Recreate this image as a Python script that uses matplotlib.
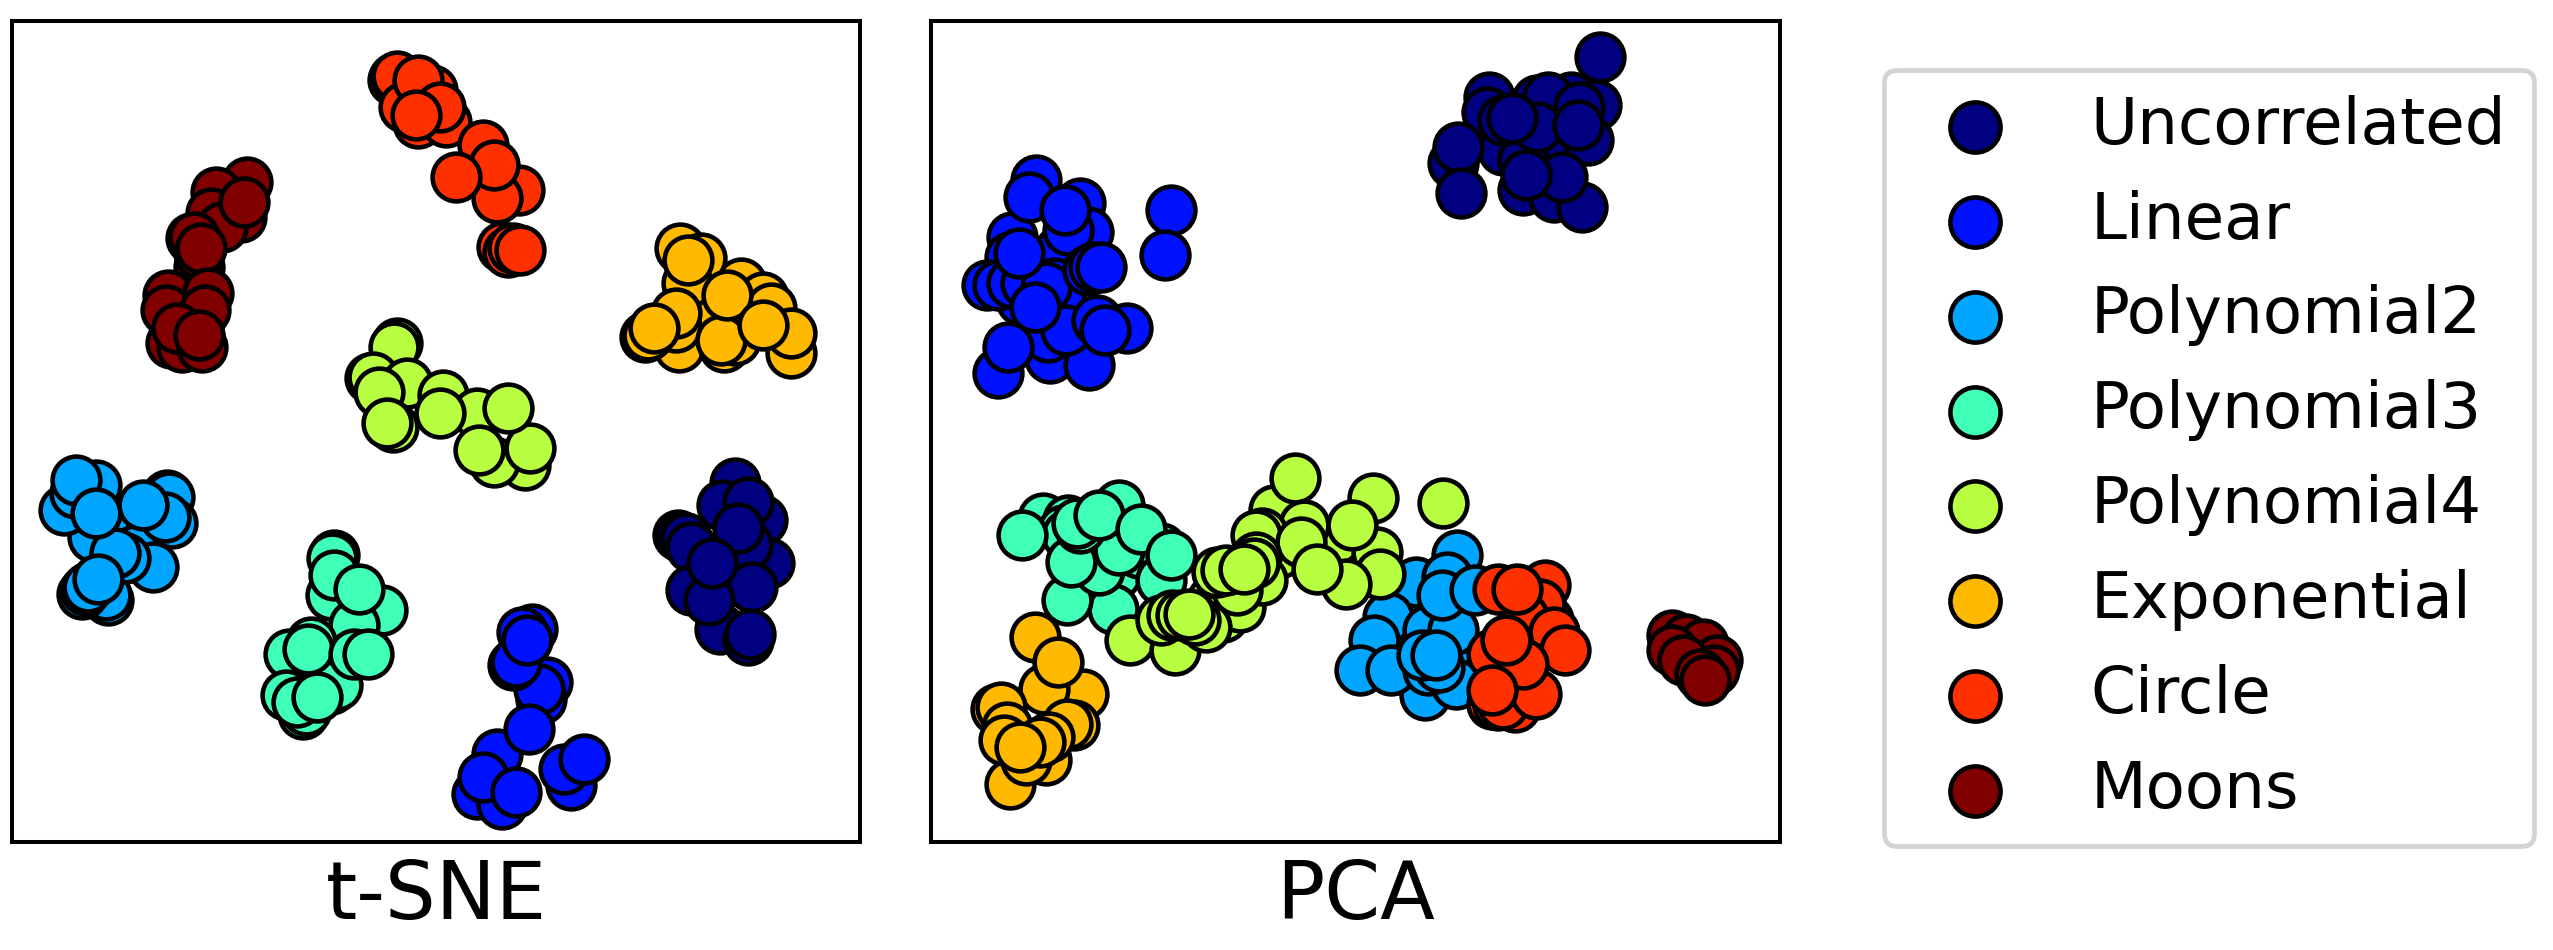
import numpy as np
import matplotlib
matplotlib.use("Agg")
import matplotlib.pyplot as plt

labels = ["Uncorrelated", "Linear", "Polynomial2", "Polynomial3",
          "Polynomial4", "Exponential", "Circle", "Moons"]

# t-SNE embedding, (x, y) per point, drawing order matters
tsne_uncorrelated = [(1311,1450),(1358,1560),(1287,1515),(1334,1505),(1208,1605),(1214,1610),(1223,1615),(1232,1640),(1370,1690),(1331,1635),(1315,1585),(1232,1770),(1340,1760),(1284,1885),(1334,1920),(1336,1900),(1264,1800),(1270,1690)]
tsne_linear = [(948,1885),(930,1895),(975,2045),(965,2095),(960,2065),(915,1995),(920,1985),(940,1920),(885,2260),(850,2380),(895,2410),(860,2330),(1018,2355),(1005,2305),(942,2185),(1040,2275),(920,2375)]
tsne_poly2 = [(215,1590),(240,1650),(165,1610),(298,1485),(301,1490),(113,1530),(171,1455),(133,1480),(307,1570),(293,1550),(272,1700),(192,1800),(189,1785),(145,1780),(151,1770),(157,1760),(222,1675),(204,1660),(135,1440),(171,1540),(254,1515),(174,1735)]
tsne_poly3 = [(595,1665),(592,1675),(590,1785),(595,1725),(680,1830),(630,1875),(640,1765),(555,1925),(515,1960),(510,2085),(590,2065),(600,2055),(540,2140),(545,2130),(530,2105),(548,1945),(630,1960),(655,1960),(565,2090)]
tsne_poly4 = [(707,1030),(703,1040),(660,1135),(665,1130),(725,1150),(790,1185),(700,1280),(675,1175),(690,1270),(850,1240),(785,1240),(935,1395),(880,1385),(945,1345),(853,1350),(905,1225)]
tsne_exponential = [(1260,920),(1210,1040),(1290,1040),(1320,850),(1212,745),(1250,775),(1225,850),(1360,890),(1150,1010),(1155,1005),(1205,980),(1205,940),(1310,1020),(1285,1020),(1410,1060),(1375,925),(1295,885),(1410,1000),(1360,975),(1165,985),(1227,780)]
tsne_circle = [(700,240),(703,235),(708,228),(770,270),(720,320),(745,370),(795,365),(745,240),(785,320),(742,345),(860,435),(925,570),(885,595),(880,495),(813,530),(895,740),(905,755),(915,745),(927,750)]
tsne_moons = [(400,640),(330,900),(340,960),(440,545),(430,650),(385,575),(375,640),(395,680),(340,715),(345,710),(355,800),(355,760),(435,605),(358,745),(300,885),(295,930),(370,880),(365,930),(305,1030),(325,1040),(315,985),(360,1040),(355,1005)]

# PCA embedding
pca_uncorrelated = [(1100,300),(1180,370),(1130,450),(1040,450),(1160,290),(1120,290),(1205,315),(1212,172),(1015,290),(1010,335),(950,490),(1190,420),(1175,320),(1075,480),(1100,380),(1040,360),(1075,570),(1130,590),(1180,620),(1145,530),(960,440),(965,580),(1055,355),(1173,375),(1080,525)]
pca_linear = [(250,750),(240,850),(250,900),(250,1000),(180,900),(208,540),(285,610),(300,695),(265,690),(165,710),(160,770),(120,855),(140,855),(165,850),(190,850),(225,860),(300,810),(310,800),(232,1075),(302,1095),(140,1120),(228,1010),(195,590),(258,630),(447,630),(437,765),(177,760),(323,800),(370,985),(260,990),(315,960),(205,920),(158,1040),(330,990)]
pca_poly2 = [(880,1820),(860,1920),(950,1970),(880,2020),(958,1665),(885,1745),(835,1850),(810,1920),(905,1890),(950,1890),(900,2085),(955,2050),(785,2010),(840,2010),(905,2010),(925,2000),(895,1965),(940,1730),(930,1785),(990,1770),(920,1965)]
pca_poly3 = [(350,1720),(390,1660),(355,1515),(220,1555),(265,1560),(255,1590),(262,1605),(430,1645),(430,1740),(345,1825),(262,1800),(320,1710),(270,1685),(355,1650),(285,1585),(280,1570),(182,1605),(320,1545),(395,1588),(447,1665)]
pca_poly4 = [(740,1620),(640,1660),(520,1800),(540,1850),(632,1530),(807,1495),(668,1435),(933,1510),(685,1575),(610,1600),(600,1605),(815,1655),(820,1720),(760,1750),(680,1625),(770,1575),(708,1705),(570,1820),(610,1740),(565,1770),(600,1670),(595,1690),(530,1715),(545,1710),(578,1705),(375,1920),(455,1950),(510,1880),(490,1860),(430,1860),(450,1845),(465,1845),(480,1842)]
pca_exponential = [(205,1910),(290,2080),(222,2065),(247,1985),(135,2125),(145,2120),(275,2175),(262,2170),(160,2350),(225,2280),(190,2280),(155,2180),(150,2220),(230,2210),(215,2225),(178,2240)]
pca_circle = [(1090,1940),(1120,1860),(1060,2120),(1115,1755),(1105,1810),(1075,1850),(1130,1895),(1150,1950),(1020,2110),(1030,2115),(1040,2110),(1098,2080),(1020,1960),(1075,1990),(1030,1765),(1065,1765),(1045,1920),(1020,2070)]
pca_moons = [(1340,1905),(1365,1915),(1395,1930),(1420,1980),(1415,2010),(1340,1950),(1360,1980),(1390,2020),(1400,2040)]

tsne_sets = [tsne_uncorrelated, tsne_linear, tsne_poly2, tsne_poly3,
             tsne_poly4, tsne_exponential, tsne_circle, tsne_moons]
pca_sets = [pca_uncorrelated, pca_linear, pca_poly2, pca_poly3,
            pca_poly4, pca_exponential, pca_circle, pca_moons]

colors = plt.cm.jet(np.linspace(0, 1, len(labels)))

W, H = 2553, 950
fig = plt.figure(figsize=(W / 100, H / 100), dpi=100)


def panel(left, right, x0, sets, title):
    ax = fig.add_axes([left / W, (H - 842) / H, (right - left) / W, 821.5 / H])
    handles = []
    for pts, c, name in zip(sets, colors, labels):
        pts = np.array(pts)
        h = ax.scatter(pts[:, 0], pts[:, 1], s=1183, color=c,
                       edgecolors="black", linewidths=3.3, label=name)
        handles.append(h)
    ax.set_xlim(x0, 1533)
    ax.set_ylim(2525, 62)
    ax.set_xticks([])
    ax.set_yticks([])
    for sp in ax.spines.values():
        sp.set_linewidth(2.9)
    ax.set_xlabel(title, fontsize=57.6, labelpad=11.5)
    return handles


handles = panel(12, 860, 21, tsne_sets, "t-SNE")
panel(931, 1780, 20, pca_sets, "PCA")

leg = fig.legend(handles, labels, loc="upper left",
                 bbox_to_anchor=(1884 / W, 1 - 846 / H, 650 / W, 776.5 / H),
                 borderaxespad=0, mode="expand",
                 fontsize=46.4, markerscale=1.05, scatterpoints=1,
                 borderpad=0.39, labelspacing=0.511, handlelength=2.04,
                 handletextpad=0.78, edgecolor="lightgray", framealpha=1,
                 fancybox=True)
leg.get_frame().set_linewidth(3.4)

fig.savefig("out.png", dpi=100)
